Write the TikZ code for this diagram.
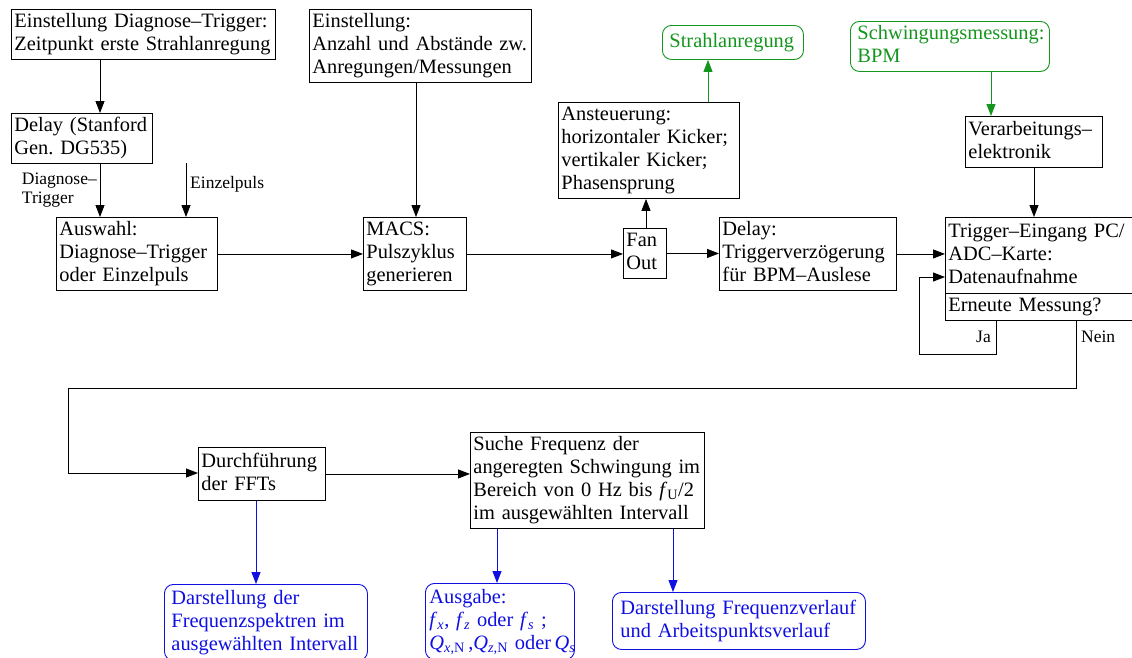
\documentclass[tikz,border=0pt]{standalone}
\usepackage{fontspec}
\setmainfont{Liberation Serif}
\usetikzlibrary{arrows.meta}
\definecolor{grn}{RGB}{20,150,30}
\definecolor{blu}{RGB}{15,15,225}
\newcommand{\mainfs}{\fontsize{20.4}{23}\selectfont}
\newcommand{\smallfs}{\fontsize{17.5}{19}\selectfont}
\tikzset{
  box/.style={draw, rectangle, anchor=north west, inner xsep=3pt, inner ysep=2pt,
    align=left, font=\mainfs, line width=0.9pt,
    execute at begin node=\strut, execute at end node=\strut},
  rbox/.style={box, rounded corners=9pt, inner xsep=7pt},
  gbox/.style={rbox, draw=grn, text=grn},
  bbox/.style={rbox, draw=blu, text=blu},
  arr/.style={-{Triangle[length=12pt,width=9pt]}, line width=0.9pt},
  lbl/.style={inner sep=0pt, font=\smallfs},
}
\begin{document}
\begin{tikzpicture}[x=1pt,y=-1pt]
\useasboundingbox (0,0) rectangle (1132,657);
% boxes
\node[box, text width=258pt, minimum height=50pt] (e1) at (11,9)
  {Einstellung~Diagnose–Trigger:\\Zeitpunkt~erste~Strahlanregung};
\node[box, text width=216pt, minimum height=73pt] (e2) at (309,9)
  {Einstellung:\\Anzahl~und~Abstände~zw.\\Anregungen/Messungen};
\node[box, text width=135pt, minimum height=50pt] (dl1) at (11,113)
  {Delay~(Stanford\\Gen.~DG535)};
\node[box, text width=155pt, minimum height=72pt] (aus) at (56,217)
  {Auswahl:\\Diagnose–Trigger\\oder~Einzelpuls};
\node[box, text width=97pt, minimum height=72pt] (macs) at (363,217)
  {MACS:\\Pulszyklus\\generieren};
\node[box, text width=37pt, minimum height=50pt] (fan) at (623,228)
  {Fan\\Out};
\node[box, text width=175pt, minimum height=95pt] (anst) at (558,102)
  {Ansteuerung:\\horizontaler~Kicker;\\vertikaler~Kicker;\\Phasensprung};
\node[box, text width=171pt, minimum height=72pt] (dl2) at (719,217)
  {Delay:\\Triggerverzögerung\\für~BPM–Auslese};
\node[box, text width=186pt, minimum height=76pt] (trig) at (945,217)
  {Trigger–Eingang~PC/\\ADC–Karte:\\Datenaufnahme};
\node[box, text width=186pt, minimum height=26pt] (ern) at (945,293)
  {Erneute~Messung?};
\node[box, text width=131pt, minimum height=51pt] (verarb) at (965,116)
  {Verarbeitungs–\\elektronik};
\node[gbox, text width=127pt, minimum height=34pt] (strahl) at (662,25)
  {Strahlanregung};
\node[gbox, text width=185pt, minimum height=50pt] (schw) at (850,21)
  {Schwingungsmessung:\\BPM};
\node[box, text width=121pt, minimum height=53pt] (fft) at (198,447)
  {Durchführung\\der~FFTs};
\node[box, text width=228pt, minimum height=95pt] (suche) at (470,432)
  {Suche~Frequenz~der\\angeregten~Schwingung~im\\Bereich~von~0~Hz~bis~\textit{f}\textsubscript{U}/2\\im~ausgewählten~Intervall};
\node[bbox, text width=189pt, minimum height=76pt] (dar1) at (164,584)
  {Darstellung~der\\Frequenzspektren~im\\ausgewählten~Intervall};
\node[bbox, inner xsep=4pt, text width=141pt, minimum height=76pt] (ausg) at (425,583)
  {Ausgabe:\\\textit{f}\textsubscript{\textit{x}},~\textit{f}\textsubscript{\textit{z}}~oder~\textit{f}\textsubscript{\textit{s}}~;\\\textit{Q}\textsubscript{\textit{x},N}\,,\textit{Q}\textsubscript{\textit{z},N}~oder\,\textit{Q}\textsubscript{\textit{s}}};
\node[bbox, inner xsep=8pt, text width=237pt, minimum height=57pt] (dar2) at (612,592)
  {Darstellung~Frequenzverlauf\\und~Arbeitspunktsverlauf};
% labels
\node[lbl, anchor=east, align=left] (ldt) at (97,190) {Diagnose–\\Trigger};
\node[lbl, anchor=west] (lez) at (190,184) {Einzelpuls};
\node[lbl, anchor=east] (lja) at (991,337) {Ja};
\node[lbl, anchor=west] (lnein) at (1081,337) {Nein};
% helper coordinates
\coordinate (xa) at (100,0);
\coordinate (ez) at (186,163);
\coordinate (xb) at (416,0);
\coordinate (xc) at (646,0);
\coordinate (xd) at (708,0);
\coordinate (xe) at (991,0);
\coordinate (xf) at (1034,0);
\coordinate (ja) at (996,354);
\coordinate (jl) at (919,277);
\coordinate (n1) at (1076,388);
\coordinate (n2) at (68,473);
\coordinate (xg) at (256,0);
\coordinate (xh) at (497,0);
\coordinate (xi) at (673,0);
% connectors
\draw[arr] (e1.south -| xa) -- (dl1.north -| xa);
\draw[arr] (dl1.south -| xa) -- (aus.north -| xa);
\draw[arr] (ez) -- (aus.north -| ez);
\draw[arr] (aus.east) -- (aus.east -| macs.west);
\draw[arr] (e2.south -| xb) -- (macs.north -| xb);
\draw[arr] (macs.east) -- (macs.east -| fan.west);
\draw[arr] (fan.north -| xc) -- (anst.south -| xc);
\draw[arr, grn] (anst.north -| xd) -- (strahl.south -| xd);
\draw[arr] (fan.east) -- (fan.east -| dl2.west);
\draw[arr] (dl2.east) -- (dl2.east -| trig.west);
\draw[arr, grn] (schw.south -| xe) -- (verarb.north -| xe);
\draw[arr] (verarb.south -| xf) -- (trig.north -| xf);
\draw[arr] (ern.south -| ja) -- (ja) -- (ja -| jl) -- (jl) -- (jl -| trig.west);
\draw[arr] (ern.south -| n1) -- (n1) -- (n1 -| n2) -- (n2) -- (n2 -| fft.west);
\draw[arr] (fft.east) -- (fft.east -| suche.west);
\draw[arr, blu] (fft.south -| xg) -- (dar1.north -| xg);
\draw[arr, blu] (suche.south -| xh) -- (ausg.north -| xh);
\draw[arr, blu] (suche.south -| xi) -- (dar2.north -| xi);
\end{tikzpicture}
\end{document}
